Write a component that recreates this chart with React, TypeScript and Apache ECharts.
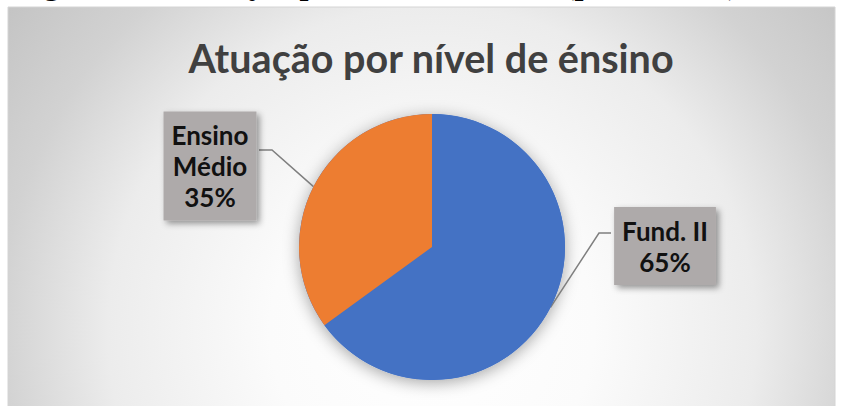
import React, { useEffect, useRef } from 'react';
import * as echarts from 'echarts';

// ---- data ----
const categories = ['Fund. II', 'Ensino Médio'];
const values = [65, 35];
const colors = ['#4472C4', '#ED7D31'];
const titleText = 'Atuação por nível de énsino';
const captionText = 'Figura 10 – Atuação por nível de ensino (professores)';
const labelBreaks: Record<string, string> = { 'Ensino Médio': 'Ensino\nMédio' };

// ---- label box placement (layout only) ----
const labelBoxes = [
  { x: 665, y: 246, elbow: [599, 233], end: [611, 233] },
  { x: 210, y: 166, elbow: [272, 150], end: [259, 150] },
];

export default function App() {
  const ref = useRef<HTMLDivElement>(null);

  useEffect(() => {
    if (!ref.current) return;
    const chart = echarts.init(ref.current, null, { renderer: 'svg' });
    const total = values.reduce((a, b) => a + b, 0);

    const option: any = {
      animation: false,
      backgroundColor: '#ffffff',
      graphic: [
        {
          type: 'text',
          z: 0,
          x: 15,
          y: -17,
          style: {
            text: captionText,
            font: 'bold 32px "Liberation Serif"',
            fill: '#000000',
            align: 'left',
            verticalAlign: 'middle',
          },
        },
        {
          type: 'rect',
          z: -10,
          shape: { x: 8, y: 7, width: 827, height: 420 },
          style: {
            fill: {
              type: 'radial',
              x: 432,
              y: 330,
              r: 540,
              global: true,
              colorStops: [
                { offset: 0, color: '#ffffff' },
                { offset: 0.3, color: '#fbfbfb' },
                { offset: 0.6, color: '#ececec' },
                { offset: 0.8, color: '#d2d2d2' },
                { offset: 1, color: '#c3c3c3' },
              ],
            },
            stroke: '#d4d4d4',
            lineWidth: 1,
          },
        },
        {
          type: 'text',
          z: 5,
          x: 431,
          y: 57,
          style: {
            text: titleText,
            font: 'bold 39.5px Lato',
            fill: '#404040',
            align: 'center',
            verticalAlign: 'middle',
          },
        },
      ],
      series: [
        {
          type: 'pie',
          silent: true,
          z: 1,
          center: [432, 247],
          radius: 133,
          startAngle: 90,
          label: { show: false },
          labelLine: { show: false },
          itemStyle: {
            color: colors[0],
            shadowBlur: 16,
            shadowOffsetY: 3,
            shadowColor: 'rgba(0,0,0,0.35)',
          },
          data: [{ name: 'total', value: total }],
        },
        {
          type: 'pie',
          z: 2,
          center: [432, 247],
          radius: 133,
          startAngle: 90,
          clockwise: true,
          itemStyle: { borderWidth: 0 },
          label: {
            show: true,
            position: 'outside',
            formatter: (p: any) =>
              `${labelBreaks[p.name] ?? p.name}\n${Math.round(p.percent)}%`,
            fontFamily: 'Lato',
            fontWeight: 'bold',
            fontSize: 26,
            lineHeight: 31,
            color: '#111111',
            align: 'center',
            backgroundColor: '#AEAAAA',
            padding: [8, 8, 8, 8],
            shadowBlur: 6,
            shadowOffsetX: 3,
            shadowOffsetY: 3,
            shadowColor: 'rgba(0,0,0,0.4)',
          },
          labelLine: {
            show: true,
            lineStyle: { color: '#7F7F7F', width: 1.5 },
          },
          labelLayout: (params: any) => {
            const b = labelBoxes[params.dataIndex];
            const a = params.labelLinePoints ? params.labelLinePoints[0] : null;
            const res: any = {
              x: b.x,
              y: b.y,
              align: 'center',
              verticalAlign: 'middle',
            };
            if (a) res.labelLinePoints = [a, b.elbow, b.end];
            return res;
          },
          data: categories.map((name, i) => ({
            name,
            value: values[i],
            itemStyle: { color: colors[i] },
          })),
        },
      ],
    };

    chart.setOption(option);
    return () => chart.dispose();
  }, []);

  return (
    <div
      ref={ref}
      style={{ position: 'absolute', left: 0, top: 0, width: 843, height: 406 }}
    />
  );
}
